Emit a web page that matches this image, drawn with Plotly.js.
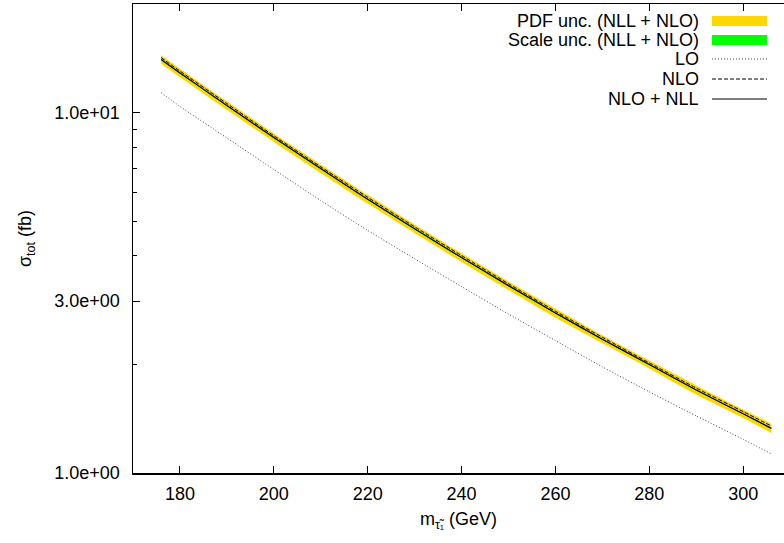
<!DOCTYPE html>
<html>
<head>
<meta charset="utf-8">
<script src="https://cdn.plot.ly/plotly-3.0.1.min.js"></script>
<style>html,body{margin:0;padding:0;background:#fff;}#chart{width:784px;height:543px;}</style>
</head>
<body>
<div id="chart"></div>
<script>
// ---- data ----
const mass    = [176, 180, 190, 200, 210, 220, 230, 240, 250, 260, 270, 280, 290, 300, 306];
const loXs    = [11.35, 10.4, 8.50, 6.95, 5.70, 4.71, 3.93, 3.29, 2.76, 2.33, 1.97, 1.68, 1.44, 1.24, 1.13];
const nloXs   = [14.20, 13.03, 10.59, 8.62, 7.07, 5.82, 4.82, 4.01, 3.35, 2.81, 2.38, 2.02, 1.72, 1.48, 1.35];
const nllXs   = [14.03, 12.88, 10.46, 8.52, 6.99, 5.75, 4.76, 3.96, 3.31, 2.78, 2.35, 2.00, 1.70, 1.46, 1.33];
const pdfHi   = [14.41, 13.23, 10.74, 8.75, 7.18, 5.91, 4.89, 4.07, 3.40, 2.86, 2.41, 2.05, 1.75, 1.50, 1.37];
const pdfLo   = [13.65, 12.53, 10.18, 8.29, 6.80, 5.59, 4.63, 3.85, 3.22, 2.70, 2.29, 1.95, 1.65, 1.42, 1.29];
const scaleHi = [14.09, 12.93, 10.50, 8.55, 7.02, 5.77, 4.78, 3.975, 3.322, 2.790, 2.358, 2.007, 1.706, 1.465, 1.335];
const scaleLo = [13.97, 12.83, 10.42, 8.49, 6.96, 5.73, 4.74, 3.945, 3.298, 2.770, 2.342, 1.993, 1.694, 1.455, 1.325];
const yTickVals  = [1, 3, 10];
const yTickText  = ["1.0e+00", "3.0e+00", "1.0e+01"];
const yMinorVals = [2, 4, 5, 6, 7, 8, 9, 20];
const xTickVals  = [180, 200, 220, 240, 260, 280, 300];
const legendLabels = ["PDF unc. (NLL + NLO)", "Scale unc. (NLL + NLO)", "LO", "NLO", "NLO + NLL"];

// ---- layout geometry ----
const W = 784, H = 543;
const M = {l: 133, r: 0, t: 4, b: 70};
const PW = W - M.l - M.r, PH = H - M.t - M.b;
const px2x = p => (p - M.l) / PW;
const py2y = p => (H - M.b - p) / PH;
const FONT = "Liberation Sans, Arial, Helvetica, sans-serif";
const YELLOW = "#FFD700", GREEN = "#00FF00";
const SH = {shape: "spline", smoothing: 0.6};

const traces = [
  {x: mass, y: pdfLo, mode: "lines", line: Object.assign({width: 0}, SH), hoverinfo: "skip", showlegend: false},
  {x: mass, y: pdfHi, mode: "lines", line: Object.assign({width: 0}, SH), fill: "tonexty", fillcolor: YELLOW, hoverinfo: "skip", showlegend: false},
  {x: mass, y: scaleLo, mode: "lines", line: Object.assign({width: 0}, SH), hoverinfo: "skip", showlegend: false},
  {x: mass, y: scaleHi, mode: "lines", line: Object.assign({width: 0}, SH), fill: "tonexty", fillcolor: GREEN, hoverinfo: "skip", showlegend: false},
  {x: mass, y: loXs, mode: "lines", line: Object.assign({color: "#444", width: 1, dash: "1px,2px"}, SH), showlegend: false},
  {x: mass, y: nllXs, mode: "lines", line: Object.assign({color: "#000", width: 1.2}, SH), showlegend: false},
  {x: mass, y: nloXs, mode: "lines", line: Object.assign({color: "#000", width: 1, dash: "4px,2px"}, SH), showlegend: false}
];

// legend drawn gnuplot-style (text right, sample on the right)
const rowsPx = [21, 40, 59, 79, 99];
const sx0 = px2x(712), sx1 = px2x(767);
const annotations = legendLabels.map((t, i) => ({
  text: t, xref: "paper", yref: "paper", x: px2x(701), y: py2y(rowsPx[i]),
  xanchor: "right", yanchor: "middle", showarrow: false,
  font: {family: FONT, size: 18, color: "#000"}
}));
const shapes = [
  {type: "rect", xref: "paper", yref: "paper", x0: sx0, x1: sx1, y0: py2y(rowsPx[0] + 5), y1: py2y(rowsPx[0] - 5), fillcolor: YELLOW, line: {width: 0}},
  {type: "rect", xref: "paper", yref: "paper", x0: sx0, x1: sx1, y0: py2y(rowsPx[1] + 5), y1: py2y(rowsPx[1] - 5), fillcolor: GREEN, line: {width: 0}},
  {type: "line", xref: "paper", yref: "paper", x0: sx0, x1: sx1, y0: py2y(rowsPx[2]), y1: py2y(rowsPx[2]), line: {color: "#444", width: 1, dash: "1px,2px"}},
  {type: "line", xref: "paper", yref: "paper", x0: sx0, x1: sx1, y0: py2y(rowsPx[3]), y1: py2y(rowsPx[3]), line: {color: "#000", width: 1, dash: "4px,2px"}},
  {type: "line", xref: "paper", yref: "paper", x0: sx0, x1: sx1, y0: py2y(rowsPx[4]), y1: py2y(rowsPx[4]), line: {color: "#000", width: 1.2}}
];

const layout = {
  width: W, height: H,
  margin: M,
  paper_bgcolor: "#fff", plot_bgcolor: "#fff",
  font: {family: FONT, size: 18, color: "#000"},
  showlegend: false,
  xaxis: {
    range: [170, 308.7], tickmode: "array", tickvals: xTickVals,
    ticks: "inside", ticklen: 7, tickcolor: "#000", tickwidth: 1,
    showline: true, linecolor: "#000", linewidth: 1.5, mirror: "ticks",
    showgrid: false, zeroline: false, ticklabelstandoff: 4,
    tickfont: {family: FONT, size: 18, color: "#000"},
    title: {text: "m<sub>τ̃₁</sub> (GeV)", font: {family: FONT, size: 18, color: "#000"}, standoff: 9}
  },
  yaxis: {
    type: "log", range: [0, Math.log10(20)],
    tickmode: "array", tickvals: yTickVals, ticktext: yTickText,
    ticks: "inside", ticklen: 7, tickcolor: "#000", tickwidth: 1,
    minor: {tickmode: "array", tickvals: yMinorVals, ticks: "inside", ticklen: 4, tickcolor: "#000", showgrid: false},
    showline: true, linecolor: "#000", linewidth: 1.5, mirror: false,
    showgrid: false, zeroline: false, ticklabelstandoff: 8,
    tickfont: {family: FONT, size: 18, color: "#000"},
    title: {text: "σ<sub>tot</sub> (fb)", font: {family: FONT, size: 18, color: "#000"}, standoff: 18}
  },
  annotations: annotations,
  shapes: shapes
};

Plotly.newPlot("chart", traces, layout, {staticPlot: true, displayModeBar: false});
</script>
</body>
</html>
